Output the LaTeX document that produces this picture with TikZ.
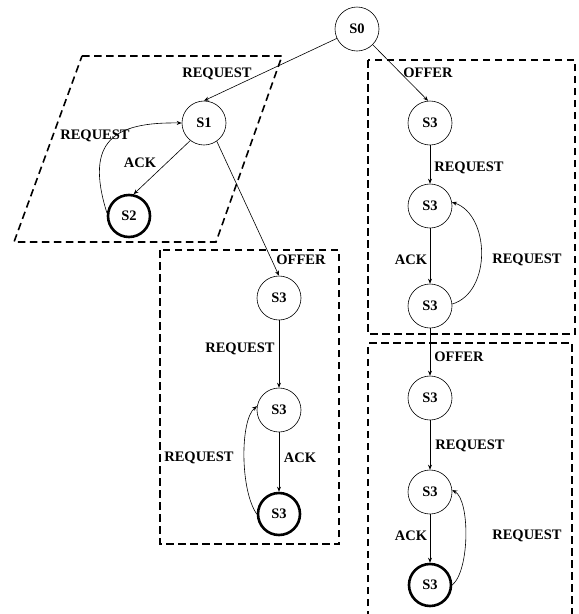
\documentclass[tikz,border=0pt]{standalone}
\usepackage{fontspec}
\setmainfont{Liberation Serif}
\usetikzlibrary{arrows.meta}
\begin{document}
\begin{tikzpicture}[x=1pt,y=-1pt,
  state/.style={circle,draw,line width=0.6pt,minimum size=44pt,inner sep=0pt,
    font=\fontsize{14.5}{16}\selectfont\bfseries},
  final/.style={state,line width=2.6pt,minimum size=42pt},
  trans/.style={line width=0.6pt,-{Stealth[length=5pt,width=4pt]}},
  lbl/.style={font=\fontsize{14.5}{16}\selectfont\bfseries,inner sep=0pt},
  group/.style={line width=1.6pt,dash pattern=on 7.5pt off 4.5pt}]
\useasboundingbox (0,0) rectangle (579,614);

% grouping frames
\draw[group] (82,56) -- (282,56) -- (216,242) -- (14,242) -- cycle;
\draw[group] (160,250) rectangle (339,544);
\draw[group] (368,60) rectangle (575,334);
\draw[group] (368,630) -- (368,343) -- (572,343) -- (572,630);

% states
\node[state] (S0) at (357,29) {S0};
\node[state] (S1) at (204,123) {S1};
\node[final] (S2) at (129,216) {S2};

\node[state] (M1) at (279,298) {S3};
\node[state] (M2) at (279,410) {S3};
\node[final] (M3) at (279,514) {S3};

\node[state] (R1) at (430,123) {S3};
\node[state] (R2) at (430,206) {S3};
\node[state] (R3) at (430,306) {S3};
\node[state] (R4) at (430,398) {S3};
\node[state] (R5) at (430,492) {S3};
\node[final] (R6) at (430,585) {S3};

% transitions
\draw[trans] (S0.205) -- (S1.north);
\draw[trans] (S0.-45) -- (R1.95);
\draw[trans] (S1.-55) -- (M1.north);
\draw[trans] (S1.232) -- (S2.78);
\draw[trans] (S2.172) .. controls (84,140) and (115,122) .. (S1.180);

\draw[trans] (M1.south) -- (M2.north);
\draw[trans] (M2.south) -- (M3.north);
\draw[trans] (M3.180) .. controls (240,490) and (240,420) .. (M2.170);

\draw[trans] (R1.south) -- (R2.north);
\draw[trans] (R2.south) -- (R3.north);
\draw[trans] (R3.5) .. controls (492,292) and (490,215) .. (R2.10);
\draw[trans] (R3.south) -- (R4.north);
\draw[trans] (R4.south) -- (R5.north);
\draw[trans] (R5.south) -- (R6.north);
\draw[trans] (R6.east) .. controls (470,570) and (470,500) .. (R5.5);

% transition labels
\node[lbl] (l1) at (217,74) {REQUEST};
\node[lbl] (l2) at (428,73) {OFFER};
\node[lbl] (l3) at (95,136) {REQUEST};
\node[lbl] (l4) at (140,163) {ACK};
\node[lbl] (l5) at (301,260) {OFFER};
\node[lbl] (l6) at (240,349) {REQUEST};
\node[lbl] (l7) at (199,458) {REQUEST};
\node[lbl] (l8) at (300,458) {ACK};
\node[lbl] (l9) at (469,168) {REQUEST};
\node[lbl] (l10) at (411,260) {ACK};
\node[lbl] (l11) at (527,260) {REQUEST};
\node[lbl] (l12) at (459,357) {OFFER};
\node[lbl] (l13) at (470,446) {REQUEST};
\node[lbl] (l14) at (411,536) {ACK};
\node[lbl] (l15) at (527,536) {REQUEST};
\end{tikzpicture}
\end{document}
